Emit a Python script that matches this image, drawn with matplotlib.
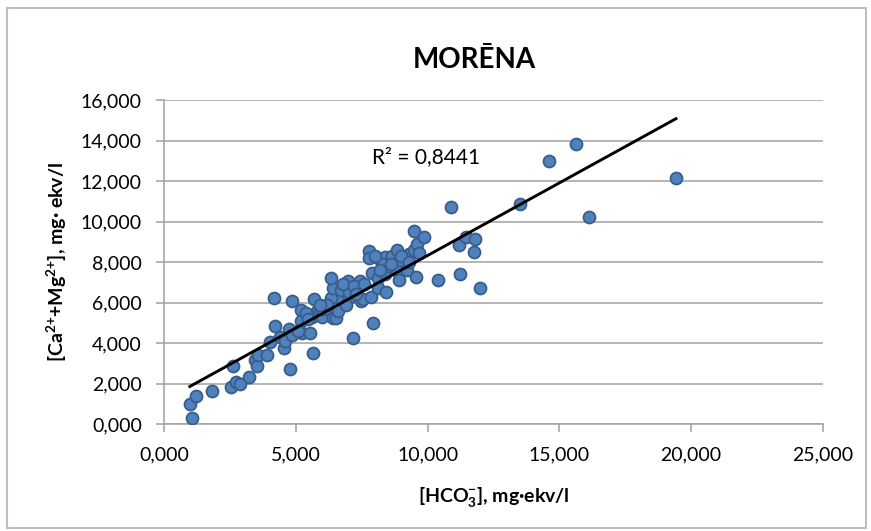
import numpy as np
import matplotlib
matplotlib.use('Agg')
import matplotlib.pyplot as plt
from matplotlib.patches import Rectangle
from matplotlib.ticker import FuncFormatter

plt.rcParams['font.family'] = ['Lato', 'DejaVu Sans']
plt.rcParams['mathtext.fontset'] = 'custom'
plt.rcParams['mathtext.rm'] = 'Lato:bold'
plt.rcParams['mathtext.it'] = 'Lato:bold'
plt.rcParams['mathtext.bf'] = 'Lato:bold'
plt.rcParams['mathtext.default'] = 'bf'

# HCO3- (x) un Ca2+ + Mg2+ (y), mg-ekv/l
hco3 = [0.98, 1.05, 1.21, 1.81, 2.56, 2.75, 2.88, 2.63, 3.22, 3.45,
        3.54, 3.57, 3.91, 4.02, 4.18, 4.20, 4.39, 4.55, 4.77, 4.60,
        4.75, 4.87, 4.87, 5.21, 5.25, 5.53, 5.66, 5.68, 5.20, 5.80,
        5.60, 5.90, 6.00, 6.00, 6.30, 6.40, 6.54, 6.60, 6.60, 6.35,
        6.40, 6.73, 7.00, 7.00, 6.35, 6.98, 7.42, 7.17, 7.48, 7.55,
        7.87, 7.93, 7.78, 7.78, 7.90, 8.12, 8.10, 8.10, 8.37, 8.41,
        8.40, 8.64, 8.80, 8.84, 8.91, 8.95, 9.20, 9.30, 9.50, 9.60,
        9.47, 9.85, 9.57, 9.67, 10.39, 10.87, 11.19, 11.24, 11.47, 11.75,
        11.78, 11.97, 13.52, 14.62, 15.63, 16.14, 19.42, 5.10, 5.40, 5.45,
        8.50, 8.30, 6.80, 7.20, 7.60, 8.20, 8.60, 9.00, 6.20, 5.90,
        6.90, 7.30, 9.30, 8.00]
ca_mg = [0.99, 0.31, 1.40, 1.63, 1.84, 2.09, 1.98, 2.86, 2.30, 3.16,
         2.86, 3.41, 3.41, 4.07, 6.21, 4.84, 4.31, 3.74, 2.72, 4.10,
         4.68, 6.09, 4.40, 5.63, 4.47, 4.47, 3.52, 6.16, 5.10, 5.60,
         5.30, 5.60, 5.30, 5.70, 5.65, 5.25, 5.22, 5.60, 6.20, 6.20,
         6.70, 6.62, 6.20, 6.50, 7.22, 7.06, 7.06, 4.23, 6.07, 6.16,
         6.29, 4.97, 8.54, 8.21, 7.44, 8.21, 7.20, 6.70, 8.26, 6.50,
         7.40, 8.30, 7.60, 8.59, 7.11, 8.10, 7.60, 8.40, 8.60, 8.90,
         9.53, 9.22, 7.27, 8.46, 7.11, 10.73, 8.84, 7.41, 9.25, 8.51,
         9.12, 6.70, 10.86, 12.99, 13.81, 10.20, 12.13, 4.60, 5.50, 5.20,
         7.80, 7.90, 6.90, 6.80, 6.90, 7.60, 7.90, 8.30, 5.90, 5.90,
         5.90, 6.40, 8.00, 8.30]

x_ticks = [0, 5, 10, 15, 20, 25]
y_ticks = [0, 2, 4, 6, 8, 10, 12, 14, 16]
r2_label = 'R² = 0,8441'

grid_col = '#A0A0A0'

fig = plt.figure(figsize=(8.71, 5.31), dpi=100)
ax = fig.add_axes([164 / 871, 107 / 531, 659 / 871, 324 / 531])

ax.scatter(hco3, ca_mg, s=74, c='#4F81BD', edgecolors='#385D8A',
           linewidths=1.3, zorder=3)

# lineara trendlinija
coef = np.polyfit(hco3, ca_mg, 1)
xs = np.array([min(hco3), max(hco3)])
ax.plot(xs, np.polyval(coef, xs), color='black', lw=2.1, zorder=4)

ax.set_xlim(0, 25)
ax.set_ylim(0, 16)
ax.set_xticks(x_ticks)
ax.set_yticks(y_ticks)
fmt = FuncFormatter(lambda v, p: f'{v:.3f}'.replace('.', ','))
ax.xaxis.set_major_formatter(fmt)
ax.yaxis.set_major_formatter(fmt)

ax.grid(axis='y', color=grid_col, lw=1.1)
ax.set_axisbelow(True)
for s in ['top', 'right']:
    ax.spines[s].set_visible(False)
for s in ['left', 'bottom']:
    ax.spines[s].set_color(grid_col)
    ax.spines[s].set_linewidth(1.1)
ax.tick_params(direction='out', length=6, width=1.1, color=grid_col,
               labelsize=14, pad=10)

ax.set_xlabel(r'[HCO$_3^{{-}}$], mg·ekv/l', fontsize=14, fontweight='bold',
              ha='center', va='center')
ax.set_ylabel(r'[Ca$^{2{+}}$+Mg$^{2{+}}$], mg· ekv/l', fontsize=14,
              fontweight='bold', ha='center', va='center')
ax.xaxis.set_label_coords(0.5, -0.225)
ax.yaxis.set_label_coords(-0.162, 0.5)

ax.text(7.9, 13.2, r2_label, fontsize=15, ha='left', va='center')

fig.text(474 / 871, 1 - 60 / 531, 'MORĒNA', fontsize=20, fontweight='bold',
         ha='center', va='center')

fig.patches.append(Rectangle((7 / 871, 3 / 531), 859 / 871, 520 / 531,
                             transform=fig.transFigure, fill=False,
                             ec='#BFBFBF', lw=1.5))

fig.savefig('out.png', dpi=100)
